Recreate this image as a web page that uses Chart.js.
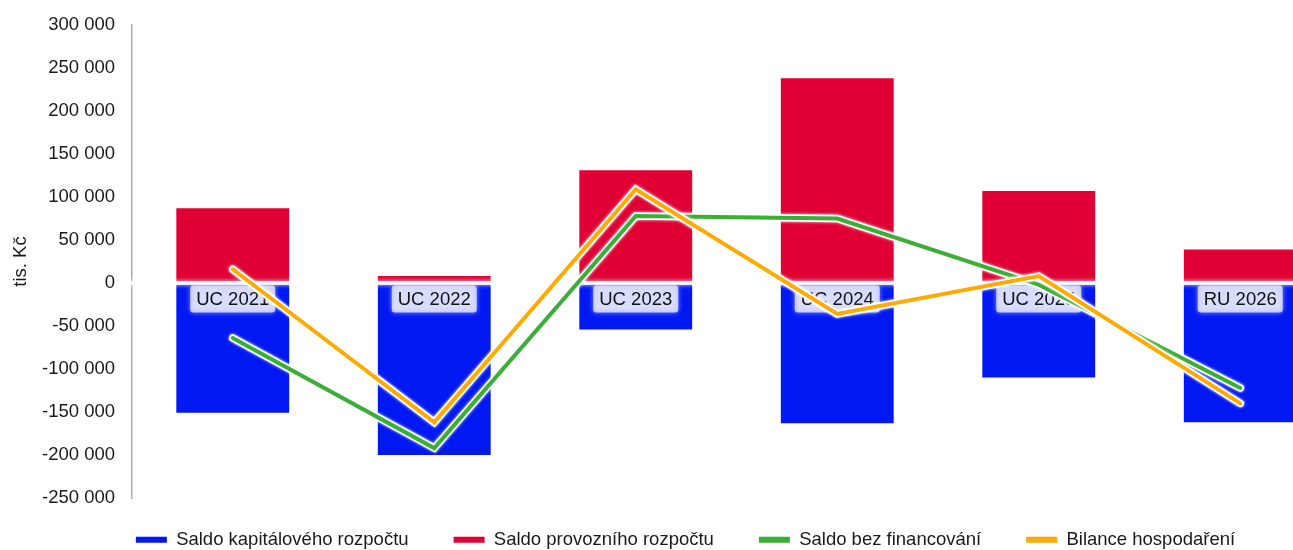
<!DOCTYPE html>
<html>
<head>
<meta charset="utf-8">
<script src="https://cdn.jsdelivr.net/npm/chart.js@4/dist/chart.umd.min.js"></script>
<style>
  html, body { margin: 0; padding: 0; background: #fff; overflow: hidden; }
  #wrap { width: 1293px; height: 550px; overflow: hidden; position: relative; }
  canvas { display: block; }
</style>
</head>
<body>
<div id="wrap"><canvas id="c" width="1365" height="550"></canvas></div>
<script>
const categories = ['UC 2021', 'UC 2022', 'UC 2023', 'UC 2024', 'UC 2025', 'RU 2026'];
const saldoKapitalove = [-151000, -200000, -54000, -163000, -110000, -162000];
const saldoProvozni = [87000, 8000, 131000, 238000, 107000, 39000];
const saldoBezFinancovani = [-64000, -192000, 78000, 75000, -2000, -122000];
const bilanceHospodareni = [16000, -162000, 109000, -36000, 8000, -140000];
const yTickValues = [-250000, -200000, -150000, -100000, -50000, 0, 50000, 100000, 150000, 200000, 250000, 300000];
const seriesNames = ['Saldo kapitálového rozpočtu', 'Saldo provozního rozpočtu', 'Saldo bez financování', 'Bilance hospodaření'];
const yTitle = 'tis. Kč';

const COL_BLUE = '#0018F2';
const COL_RED = '#E00034';
const COL_GREEN = '#3AAE35';
const COL_ORANGE = '#FFAA00';
const FONT = '"Liberation Sans", Arial, sans-serif';
const FS = 18.5;

function fmt(v) {
  const s = Math.abs(v).toString().replace(/\B(?=(\d{3})+(?!\d))/g, ' ');
  return (v < 0 ? '-' : '') + s;
}

const glowPlugin = {
  id: 'glow',
  afterInit(chart) {
    const lg = chart.legend;
    if (lg) {
      const f = lg.fit;
      lg.fit = function () { f.call(this); this.height = 52; };
    }
  },
  afterLayout(chart) {
    const lg = chart.legend;
    if (lg) { lg.top -= 12.5; lg.left += 15; lg.right += 15; }
  },
  beforeDatasetDraw(chart, args) {
    const ds = chart.data.datasets[args.index];
    if (ds.type === 'line') {
      const ctx = chart.ctx;
      const pts = args.meta.data;
      ctx.save();
      ctx.strokeStyle = 'rgba(255,255,255,0.95)';
      ctx.lineWidth = 7.5;
      ctx.lineCap = 'round';
      ctx.lineJoin = 'miter';
      ctx.shadowColor = 'rgba(255,255,255,1)';
      ctx.shadowBlur = 3;
      ctx.beginPath();
      pts.forEach((p, i) => { if (i === 0) ctx.moveTo(p.x, p.y); else ctx.lineTo(p.x, p.y); });
      ctx.stroke();
      ctx.restore();
    }
  },
  afterDatasetDraw(chart, args) {
    const ds = chart.data.datasets[args.index];
    const ctx = chart.ctx;
    if (ds.labelsAfter) {
      const y0 = chart.scales.y.getPixelForValue(0);
      const xs = chart.scales.x;
      const area = chart.chartArea;
      ctx.save();
      // zero band
      ctx.shadowColor = 'rgba(255,255,255,0.9)';
      ctx.shadowBlur = 4;
      ctx.fillStyle = 'rgba(255,255,255,0.85)';
      ctx.fillRect(area.left - 5, y0 - 2, area.right - area.left + 5, 4);
      // category labels
      ctx.font = FS + 'px ' + FONT;
      ctx.textAlign = 'center';
      ctx.textBaseline = 'middle';
      categories.forEach((c, i) => {
        const x = xs.getPixelForValue(i);
        const w = ctx.measureText(c).width + 12;
        const h = 27;
        const yc = y0 + 16;
        ctx.shadowColor = 'rgba(255,255,255,0.8)';
        ctx.shadowBlur = 5;
        ctx.fillStyle = 'rgba(255,255,255,0.68)';
        ctx.beginPath();
        ctx.roundRect(x - w / 2, yc - h / 2, w, h, 3);
        ctx.fill();
        ctx.shadowBlur = 0;
        ctx.fillStyle = '#111';
        ctx.fillText(c, x, yc + 1);
      });
      ctx.restore();
    }
  }
};

const colors = [COL_BLUE, COL_RED, COL_GREEN, COL_ORANGE];

new Chart(document.getElementById('c'), {
  type: 'bar',
  data: {
    labels: categories,
    datasets: [
      { type: 'line', label: seriesNames[3], data: bilanceHospodareni, borderColor: COL_ORANGE, backgroundColor: COL_ORANGE,
        borderWidth: 4, pointRadius: 0, tension: 0, borderCapStyle: 'round', fill: false },
      { type: 'line', label: seriesNames[2], data: saldoBezFinancovani, borderColor: COL_GREEN, backgroundColor: COL_GREEN,
        borderWidth: 4, pointRadius: 0, tension: 0, borderCapStyle: 'round', fill: false },
      { type: 'bar', label: seriesNames[0], data: saldoKapitalove, backgroundColor: COL_BLUE, stack: 'b',
        barPercentage: 0.56, categoryPercentage: 1, labelsAfter: true },
      { type: 'bar', label: seriesNames[1], data: saldoProvozni, backgroundColor: COL_RED, stack: 'b',
        barPercentage: 0.56, categoryPercentage: 1 }
    ]
  },
  options: {
    responsive: false,
    animation: false,
    devicePixelRatio: 1,
    layout: { padding: { left: 0, right: 24, top: 25, bottom: 0 } },
    scales: {
      x: { display: false, offset: true },
      y: {
        min: -250000, max: 300000,
        afterBuildTicks: (s) => { s.ticks = yTickValues.map(v => ({ value: v })); },
        afterFit: (s) => { s.width = 132; },
        grid: { display: true, color: 'rgba(0,0,0,0)', drawTicks: true, tickLength: 15, tickColor: 'rgba(0,0,0,0)' },
        border: { display: true, color: '#ababab', width: 1.5 },
        ticks: { padding: 2, color: '#1a1a1a', font: { family: FONT, size: FS }, callback: (v) => fmt(v) },
        title: { display: true, text: yTitle, color: '#1a1a1a', font: { family: FONT, size: FS }, padding: { top: 9.5, bottom: 4 } }
      }
    },
    plugins: {
      tooltip: { enabled: false },
      legend: {
        position: 'bottom',
        labels: {
          boxWidth: 31, boxHeight: 6, padding: 45, color: '#1a1a1a',
          font: { family: FONT, size: FS },
          generateLabels: () => seriesNames.map((n, i) => ({
            text: n, fillStyle: colors[i], strokeStyle: colors[i], lineWidth: 0, hidden: false, fontColor: '#1a1a1a'
          }))
        }
      }
    }
  },
  plugins: [glowPlugin]
});
</script>
</body>
</html>
